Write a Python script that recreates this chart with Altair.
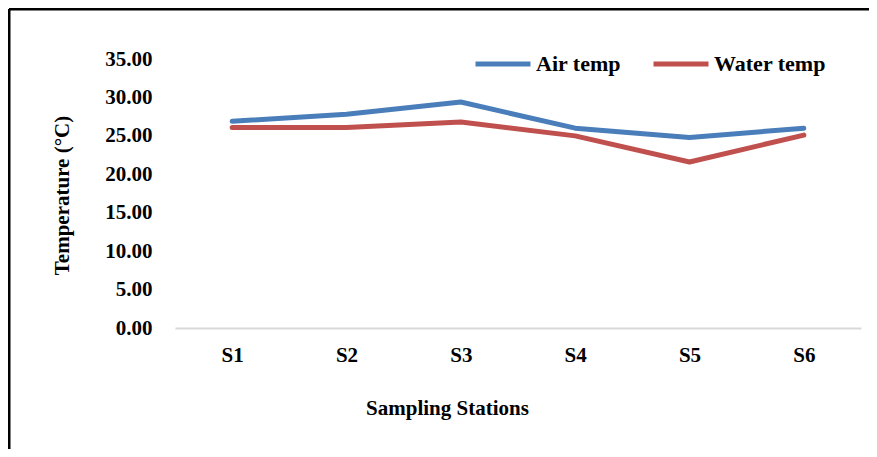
import altair as alt
import pandas as pd

stations = ["S1", "S2", "S3", "S4", "S5", "S6"]
air_temp = [26.9, 27.8, 29.4, 26.0, 24.8, 26.0]
water_temp = [26.1, 26.1, 26.8, 25.0, 21.6, 25.1]
series_names = ["Air temp", "Water temp"]
series_colors = ["#4A7EBB", "#C0504D"]
y_ticks = [0, 5, 10, 15, 20, 25, 30, 35]

rows = []
for s, a, w in zip(stations, air_temp, water_temp):
    rows.append({"Station": s, "Series": "Air temp", "Temp": a})
    rows.append({"Station": s, "Series": "Water temp", "Temp": w})
df = pd.DataFrame(rows)

FONT = "Liberation Serif"
W, H = 686, 269

lines = alt.Chart(df).mark_line(strokeWidth=5, strokeCap="round", strokeJoin="round").encode(
    x=alt.X("Station:N", sort=stations,
            scale=alt.Scale(type="point", padding=0.5),
            axis=alt.Axis(title="Sampling Stations", labelAngle=0, ticks=False, domain=True,
                          domainColor="#D9D9D9", domainWidth=2,
                          labelPadding=16, titleX=272, titleY=80, titleBaseline="middle",
                          grid=False, labelOverlap=False)),
    y=alt.Y("Temp:Q", scale=alt.Scale(domain=[0, 35], nice=False),
            axis=alt.Axis(title="Temperature (°C)", values=y_ticks, format=".2f", ticks=False,
                          domain=False, grid=False, labelPadding=23,
                          titleX=-113, titleY=136, titleAngle=270, titleBaseline="middle",
                          labelOverlap=False)),
    color=alt.Color("Series:N", scale=alt.Scale(domain=series_names, range=series_colors),
                    legend=alt.Legend(title=None, orient="none", legendX=298, legendY=-25,
                                      direction="horizontal", symbolType="stroke",
                                      symbolSize=3025, symbolStrokeWidth=5,
                                      labelOffset=3, columnPadding=22, symbolOffset=0)),
)

frame_top = alt.Chart(pd.DataFrame({"a": [0]})).mark_rule(color="#000000", strokeWidth=3).encode(
    x=alt.value(-166), x2=alt.value(W + 8), y=alt.value(-50),
)
frame_left = alt.Chart(pd.DataFrame({"a": [0]})).mark_rule(color="#000000", strokeWidth=3).encode(
    x=alt.value(-166), y=alt.value(-50), y2=alt.value(H + 150),
)
edge_cover = alt.Chart(pd.DataFrame({"a": [0]})).mark_rule(color="#FFFFFF", strokeWidth=8).encode(
    x=alt.value(W + 6), y=alt.value(-47), y2=alt.value(H + 150),
)

chart = alt.layer(lines, frame_top, frame_left, edge_cover).properties(
    width=W, height=H,
    autosize=alt.AutoSizeParams(type="none"),
    padding={"left": 167, "top": 51, "right": 8, "bottom": 121},
).configure_view(stroke=None).configure_axis(
    labelFont=FONT, labelFontSize=21, labelFontWeight="bold", labelColor="#000000",
    titleFont=FONT, titleFontSize=21, titleFontWeight="bold", titleColor="#000000",
).configure_legend(
    labelFont=FONT, labelFontSize=22, labelFontWeight="bold", labelColor="#000000",
)

chart.save("out.html", embed_options={"renderer": "svg", "actions": False})
